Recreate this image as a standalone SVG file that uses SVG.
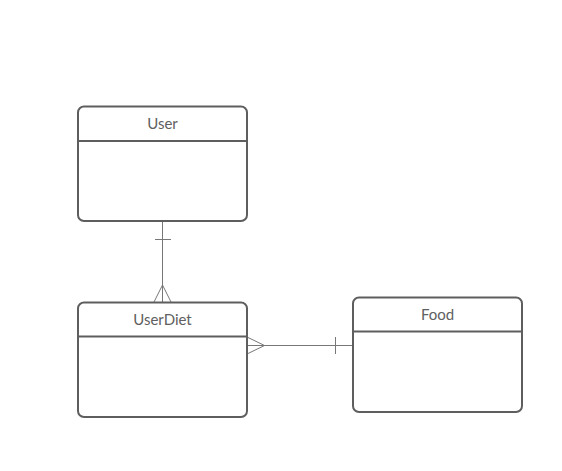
<svg xmlns="http://www.w3.org/2000/svg" width="562" height="471" viewBox="0 0 562 471">
  <style>
    .box { fill: #ffffff; stroke: #5e5e5e; stroke-width: 2; }
    .div { stroke: #5e5e5e; stroke-width: 2; fill: none; }
    .lbl { font-family: Lato, "Liberation Sans", sans-serif; font-size: 15px; fill: #606060; text-anchor: middle; }
    .link { stroke: #777777; stroke-width: 1; fill: none; }
  </style>
  <rect width="562" height="471" fill="#ffffff"/>

  <g id="connectors">
    <!-- User (one) to UserDiet (many) -->
    <line class="link" x1="162.5" y1="222" x2="162.5" y2="302"/>
    <line class="link" x1="155" y1="239.5" x2="171" y2="239.5"/>
    <polyline class="link" points="154,302 162.5,285 171,302"/>
    <!-- Food (one) to UserDiet (many) -->
    <line class="link" x1="247" y1="345.5" x2="352" y2="345.5"/>
    <line class="link" x1="335.5" y1="337" x2="335.5" y2="354"/>
    <polyline class="link" points="247,337 264.5,345.5 247,354"/>
  </g>

  <g id="user">
    <rect class="box" x="78" y="106.5" width="169" height="114.5" rx="6"/>
    <line class="div" x1="78" y1="141" x2="247" y2="141"/>
    <text class="lbl" x="162.5" y="128.5">User</text>
  </g>

  <g id="userdiet">
    <rect class="box" x="78" y="302.5" width="169" height="114.5" rx="6"/>
    <line class="div" x1="78" y1="336.5" x2="247" y2="336.5"/>
    <text class="lbl" x="162.5" y="324.5">UserDiet</text>
  </g>

  <g id="food">
    <rect class="box" x="353" y="297.5" width="169" height="114.5" rx="6"/>
    <line class="div" x1="353" y1="331.5" x2="522" y2="331.5"/>
    <text class="lbl" x="437.5" y="319.5">Food</text>
  </g>
</svg>
